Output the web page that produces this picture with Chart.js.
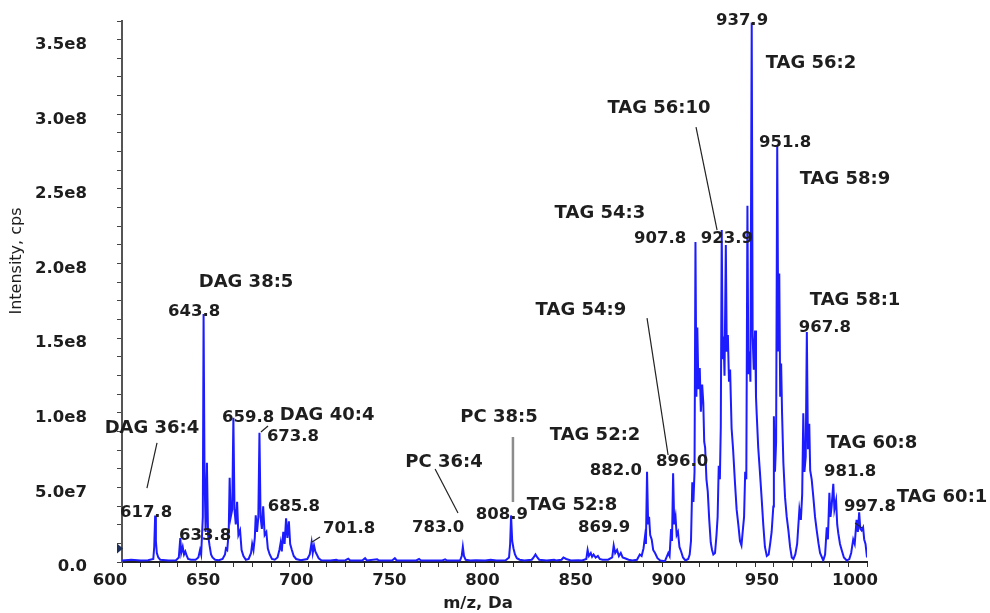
<!DOCTYPE html>
<html>
<head>
<meta charset="utf-8">
<script src="https://cdn.jsdelivr.net/npm/chart.js@4.4.1/dist/chart.umd.min.js"></script>
<style>
  html, body { margin: 0; padding: 0; background: #fff; }
</style>
</head>
<body>
<canvas id="spectrum" width="990" height="613"></canvas>
<script>
// m/z (Da) and intensity (in 1e6 cps)
const mz = [
  600, 605, 610, 614, 616.8, 617.3, 617.8, 618.2, 618.7, 619.5, 620.5, 625, 629,
  630.5, 631.3, 631.8, 632.6, 633.3, 634, 634.8, 635.5, 637, 639.5, 641, 641.9, 642.5,
  643.4, 643.8, 644.3, 644.9, 645.6, 646.2, 647, 647.8, 648.6, 650, 652, 654,
  655.3, 655.8, 656.5, 657.3, 657.8, 658.4, 659.2, 659.8, 660.4, 661.1, 661.8, 662.5,
  663.4, 664.2, 665.2, 666.5, 668, 669.3, 669.9, 670.6, 671.3, 671.8, 672.5, 673.2,
  673.8, 674.4, 675.1, 675.8, 676.6, 677.5, 678.3, 679.3, 680.5, 682, 683.5, 684.5,
  685.2, 685.8, 686.6, 687.3, 688.1, 688.8, 689.6, 690.3, 691.2, 692.2, 693.5, 696,
  699.5, 700.8, 701.8, 702.4, 703.1, 703.8, 704.6, 705.6, 707, 712, 715, 716, 720,
  721.5, 722.5, 729, 730.5, 731.5, 737, 738, 745, 746.5, 747.5, 758, 759.5, 760.5,
  772, 773.5, 774.5, 781.5, 782.4, 783, 783.6, 784.5, 787, 790, 795, 798, 801, 806,
  807.8, 808.4, 808.9, 809.5, 810.2, 811, 812, 813.5, 816, 820, 821, 822, 823, 824,
  828, 832, 833, 836, 837, 838.5, 841, 845, 847, 849.3, 850, 850.7, 851.7, 852.4,
  853.2, 854.3, 855.5, 856.5, 858, 861, 863.2, 864, 864.8, 865.8, 866.8, 867.8, 868.8,
  870, 872, 874, 876.5, 878, 879, 880, 880.8, 881.3, 881.9, 882.5, 883, 883.6, 884.4,
  885.2, 886.2, 887.5, 889, 891.5, 893.3, 894, 894.8, 895.3, 895.9, 896.5, 897.2,
  897.8, 898.5, 899.3, 900.2, 901.2, 902.5, 904, 904.8, 905.5, 906.2, 906.8, 907.4,
  907.9, 908.4, 908.9, 909.5, 910.2, 910.8, 911.5, 912.1, 912.6, 913.1, 913.8, 914.5,
  915.3, 916.1, 916.8, 917.5, 918.4, 919.2, 919.8, 920.4, 921, 921.5, 922, 922.5, 923,
  923.5, 924.2, 924.7, 925.3, 925.9, 926.5, 927.3, 928.1, 929.1, 930, 930.9, 931.8,
  932.6, 933.4, 934, 934.6, 935.2, 935.8, 936.3, 936.9, 937.4, 938.1, 938.6, 939.2,
  939.9, 940.4, 940.8, 941.6, 942.5, 943.4, 944.3, 945.2, 946.2, 947.2, 948, 948.8,
  949.7, 950, 950.6, 951.2, 951.8, 952.4, 952.9, 953.4, 953.9, 954.4, 955.1, 956,
  956.9, 957.8, 958.7, 959.6, 960.5, 961.5, 962.5, 963.7, 964.5, 965.2, 965.8, 966.4,
  967.1, 967.7, 968.3, 969, 969.5, 970.3, 971.2, 972.1, 973, 974, 974.8, 976.5, 977.5,
  978.4, 979, 979.8, 980.4, 981, 981.9, 982.5, 983.4, 984, 984.6, 985.5, 986.4, 987.6,
  989.1, 990.5, 991.5, 992.6, 993.4, 994.4, 995.1, 995.8, 996.4, 997.1, 997.9, 998.5,
  999.2, 1000
];
const intensity = [
  1, 1.5, 1, 1.2, 2, 10, 31, 14, 6, 3, 1.5, 1, 1.2,
  3, 16, 6, 10, 5, 7, 4, 2, 1.5, 1.5, 3, 8, 5,
  30, 165, 60, 20, 66, 18, 11, 5, 3, 1.5, 1.2, 2,
  5, 9, 8, 20, 56, 30, 35, 96, 35, 25, 40, 18,
  21, 8, 4, 1.5, 2, 6, 12, 8, 16, 31, 20, 30,
  86, 30, 22, 37, 18, 20, 9, 5, 2, 1.5, 3, 8,
  13, 7, 20, 12, 29, 16, 27, 12, 8, 4, 2, 1.2,
  2, 5, 13, 6, 11, 7, 5, 2.5, 1.2, 1, 1.5, 1, 1.2,
  2.2, 1, 1, 2.5, 1, 1.8, 1, 1, 2.5, 1, 1, 2, 1,
  1, 1.8, 1, 1, 4, 10, 4, 1.5, 1, 1.2, 1, 1.5, 1, 1.2,
  3, 12, 31, 14, 9, 5, 2.5, 1.5, 1, 1.5, 3, 5, 3, 1.5,
  1, 1.5, 1, 1.5, 3, 2, 1, 1.2, 1, 2, 8, 4, 6, 3.5,
  5, 3, 4, 2, 1.5, 1.5, 3, 11, 6, 8, 4, 6, 3,
  2.5, 1.5, 1, 1.5, 5, 4, 9, 17, 12, 60, 25, 30, 18, 15,
  8, 6, 2.5, 1, 0.5, 6, 4, 22, 14, 59, 25, 30,
  18, 20, 10, 7, 3, 1, 2, 5, 14, 53, 40, 60,
  213, 110, 156, 115, 129, 100, 118, 106, 80, 76, 55, 47,
  28, 13, 8, 5, 6, 18, 30, 64, 55, 90, 221, 135, 150,
  124, 211, 140, 151, 120, 128, 89, 75, 53, 35, 25, 14,
  11, 22, 30, 60, 55, 237, 125, 140, 120, 359, 150, 128,
  154, 110, 98, 76, 60, 43, 25, 10, 4, 5, 12, 20,
  37, 97, 60, 80, 277, 140, 192, 110, 132, 99, 66, 43,
  30, 21, 10, 3, 2, 5, 12, 35, 28, 45, 99, 60,
  70, 153, 75, 92, 61, 55, 43, 30, 21, 12, 6, 1, 5,
  23, 15, 46, 30, 37, 52, 35, 41, 25, 19, 12, 8, 3,
  1, 2, 6, 15, 12, 28, 20, 33, 22, 21, 23, 15,
  12, 3
];

const yTickLabels = ['0.0', '5.0e7', '1.0e8', '1.5e8', '2.0e8', '2.5e8', '3.0e8', '3.5e8'];
const xTickLabels = ['600', '650', '700', '750', '800', '850', '900', '950', '1000'];

// peak m/z labels: [text, m/z, intensity(1e6)] at the label centre
const peakLabels = [
  ['617.8', 612.9, 32.6], ['633.8', 644.6, 17.3], ['643.8', 638.7, 166.3],
  ['659.8', 667.7, 95.8], ['673.8', 691.8, 83.2], ['685.8', 692.3, 36.6],
  ['701.8', 721.9, 22.0], ['783.0', 769.7, 22.6], ['808.9', 804.0, 31.3],
  ['869.9', 858.8, 22.6], ['882.0', 865.2, 60.5], ['896.0', 900.7, 66.5],
  ['907.8', 888.9, 214.9], ['923.9', 924.8, 214.9], ['937.9', 932.9, 359.9],
  ['951.8', 956.0, 278.8], ['967.8', 977.4, 155.7], ['981.8', 990.9, 59.9],
  ['997.8', 1001.6, 36.6]
];

// lipid assignments
const lipidLabels = [
  ['DAG 36:4', 616.1, 89.2], ['DAG 38:5', 666.6, 186.3], ['DAG 40:4', 710.1, 97.8],
  ['PC 36:4', 772.9, 66.5], ['PC 38:5', 802.4, 96.5], ['TAG 52:8', 841.6, 37.9],
  ['TAG 52:2', 854.0, 84.5], ['TAG 54:9', 846.4, 167.7], ['TAG 54:3', 856.6, 232.2],
  ['TAG 56:10', 888.3, 302.1], ['TAG 56:2', 969.9, 332.0], ['TAG 58:9', 988.2, 254.8],
  ['TAG 58:1', 993.6, 174.3], ['TAG 60:8', 1002.7, 79.2], ['TAG 60:1', 1040.3, 43.2]
];

// leader lines: [m/z1, int1, m/z2, int2]
const leaders = [
  [618.8, 79.2, 613.4, 49.2],
  [674.6, 86.5, 678.4, 90.5],
  [702.0, 13.3, 706.3, 16.6],
  [768.1, 61.9, 780.4, 32.6],
  [809.9, 83.2, 809.9, 39.9],
  [881.9, 162.3, 893.2, 71.2],
  [908.2, 289.4, 919.5, 220.9],
  [993.6, 25.9, 997.3, 22.6]
];
const grayLeader = 4;

const FONT = "'DejaVu Sans', sans-serif";
const INK = '#1e1e1e';

const annotate = {
  id: 'annotate',
  afterDatasetsDraw(chart) {
    const { ctx, chartArea, scales: { x, y } } = chart;
    const px = v => x.getPixelForValue(v);
    const py = v => y.getPixelForValue(v * 1e6);
    ctx.save();

    leaders.forEach((l, i) => {
      ctx.beginPath();
      ctx.strokeStyle = i === grayLeader ? '#8c8c8c' : '#222';
      ctx.lineWidth = i === grayLeader ? 2.5 : 1.2;
      ctx.moveTo(px(l[0]), py(l[1]));
      ctx.lineTo(px(l[2]), py(l[3]));
      ctx.stroke();
    });

    ctx.fillStyle = INK;
    ctx.textAlign = 'center';
    ctx.textBaseline = 'middle';
    ctx.font = 'bold 16.5px ' + FONT;
    peakLabels.forEach(([t, m, v]) => ctx.fillText(t, px(m), py(v)));
    ctx.font = 'bold 18px ' + FONT;
    lipidLabels.forEach(([t, m, v]) => ctx.fillText(t, px(m), py(v)));

    // axis titles
    ctx.font = 'bold 16.5px ' + FONT;
    ctx.fillText('m/z, Da', chartArea.left + 356, chartArea.bottom + 42);
    ctx.font = '16px ' + FONT;
    ctx.translate(17, chartArea.top + 240);
    ctx.rotate(-Math.PI / 2);
    ctx.fillText('Intensity, cps', 0, 0);
    ctx.setTransform(1, 0, 0, 1, 0, 0);

    // threshold marker on the intensity axis
    const ty = py(9);
    const tx = x.left;
    ctx.fillStyle = '#1c2f5a';
    ctx.beginPath();
    ctx.moveTo(tx - 5, ty - 5);
    ctx.lineTo(tx + 1, ty);
    ctx.lineTo(tx - 5, ty + 5);
    ctx.closePath();
    ctx.fill();
    ctx.restore();
  }
};

const ctx = document.getElementById('spectrum');
new Chart(ctx, {
  type: 'line',
  data: {
    datasets: [{
      data: mz.map((m, i) => ({ x: m, y: intensity[i] * 1e6 })),
      borderColor: 'rgb(28,28,255)',
      borderWidth: 2,
      pointRadius: 0,
      tension: 0,
      fill: false
    }]
  },
  options: {
    responsive: false,
    animation: false,
    devicePixelRatio: 1,
    layout: { padding: { left: 0, right: 123, top: 21, bottom: 0 } },
    plugins: { legend: { display: false }, tooltip: { enabled: false } },
    scales: {
      x: {
        type: 'linear',
        min: 600,
        max: 1000,
        afterFit: s => { s.height = 51; s.paddingLeft = 0; s.paddingRight = 0; },
        border: { color: '#222', width: 2 },
        grid: { drawOnChartArea: false, tickLength: 5, color: '#333' },
        ticks: {
          stepSize: 10,
          autoSkip: false,
          maxRotation: 0,
          labelOffset: -12,
          padding: 4,
          color: INK,
          font: { family: FONT, size: 16.5, weight: 'bold' },
          callback: v => (v % 50 === 0 ? xTickLabels[(v - 600) / 50] : '')
        }
      },
      y: {
        min: 0,
        max: 3.6e8,
        afterFit: s => { s.width = 122; s.paddingTop = 0; s.paddingBottom = 0; },
        border: { color: '#555', width: 2 },
        grid: { drawOnChartArea: false, tickLength: 5, color: '#444' },
        ticks: {
          stepSize: 1.25e7,
          includeBounds: false,
          autoSkip: false,
          labelOffset: 5,
          padding: 30,
          color: INK,
          font: { family: FONT, size: 16.5, weight: 'bold' },
          callback: v => {
            const k = Math.round(v / 1.25e7);
            return k % 4 === 0 ? yTickLabels[k / 4] : '';
          }
        }
      }
    }
  },
  plugins: [annotate]
});
</script>
</body>
</html>
